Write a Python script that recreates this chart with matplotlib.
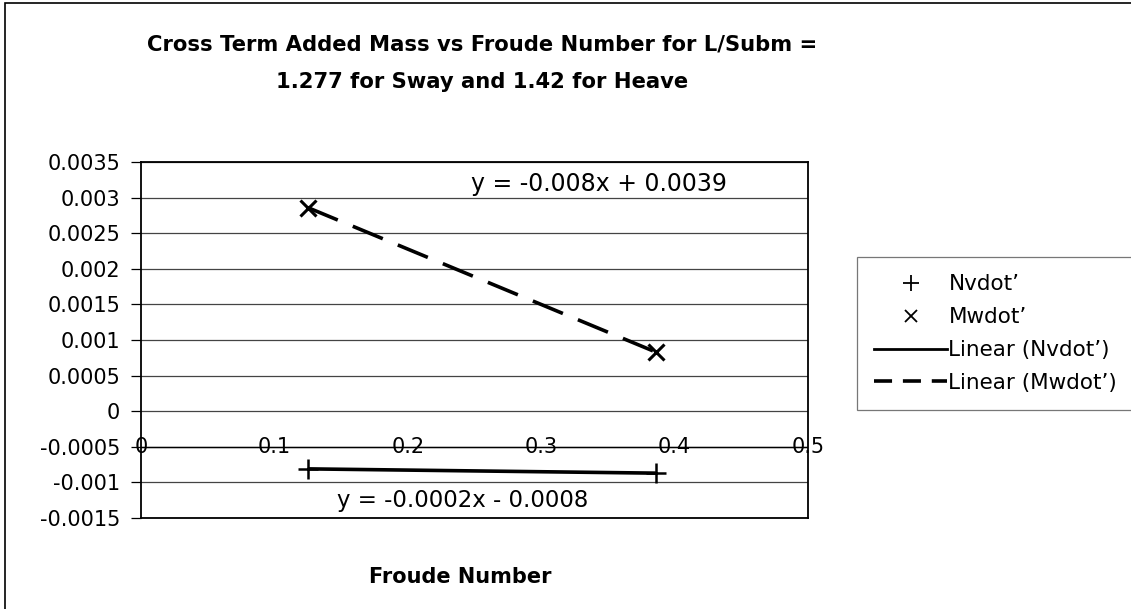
import numpy as np
import matplotlib
matplotlib.use("Agg")
import matplotlib.pyplot as plt
from matplotlib.lines import Line2D
from matplotlib.patches import Rectangle

# ---- data ----
froude = [0.125, 0.386]
nvdot = [-0.00081, -0.00087]
mwdot = [0.00286, 0.00083]
x_ticks = [0, 0.1, 0.2, 0.3, 0.4, 0.5]
x_tick_labels = ["0", "0.1", "0.2", "0.3", "0.4", "0.5"]
y_ticks = [-0.0015, -0.001, -0.0005, 0, 0.0005, 0.001, 0.0015, 0.002, 0.0025, 0.003, 0.0035]
y_tick_labels = ["-0.0015", "-0.001", "-0.0005", "0", "0.0005", "0.001", "0.0015",
                 "0.002", "0.0025", "0.003", "0.0035"]
eq_mw = "y = -0.008x + 0.0039"
eq_nv = "y = -0.0002x - 0.0008"
title = "Cross Term Added Mass vs Froude Number for L/Subm =\n1.277 for Sway and 1.42 for Heave"
xlabel = "Froude Number"

plt.rcParams['font.family'] = ['DejaVu Sans']

W, H = 1131, 609
fig = plt.figure(figsize=(W / 100, H / 100), dpi=100)
ax = fig.add_axes([141 / W, 1 - 518 / H, (808 - 141) / W, (518 - 162) / H])

ax.set_xlim(0, 0.5)
ax.set_ylim(-0.0015, 0.0035)

# gridlines
for yv in y_ticks:
    ax.axhline(yv, color='#444444', lw=0.9, zorder=1)

# trendlines (least-squares fit through data)
xs = np.array(froude)
c_nv = np.polyfit(xs, nvdot, 1)
c_mw = np.polyfit(xs, mwdot, 1)
ax.plot(xs, np.polyval(c_nv, xs), color='black', lw=2.6, solid_capstyle='butt', zorder=3)
ax.plot(xs, np.polyval(c_mw, xs), color='black', lw=2.6, dashes=(9, 4.5), zorder=3)

# markers
ax.plot(froude, nvdot, ls='none', marker='+', ms=15, mew=1.8, color='black', zorder=4)
ax.plot(froude, mwdot, ls='none', marker='x', ms=12, mew=2.2, color='black', zorder=4)

# y ticks
ax.set_yticks(y_ticks)
ax.set_yticklabels(y_tick_labels, fontsize=15)
ax.tick_params(axis='y', length=7, width=0.9, direction='out', pad=8)

# x axis drawn at -0.0005 with labels centered on the line
ax.set_xticks([])
ax.axhline(-0.0005, color='black', lw=1.0, zorder=2)
for xv, lab in zip(x_ticks, x_tick_labels):
    ax.text(xv, -0.0005, lab, ha='center', va='center', fontsize=15, zorder=5)

for s in ax.spines.values():
    s.set_linewidth(1.3)
    s.set_color('black')

# equations
ax.text(0.343, 0.00319, eq_mw, ha='center', va='center', fontsize=17)
ax.text(0.241, -0.00125, eq_nv, ha='center', va='center', fontsize=16.5)

# title and x label
fig.text(482 / W, 1 - 63 / H, title, ha='center', va='center', fontsize=15.2,
         fontweight='bold', linespacing=2.1)
fig.text(460 / W, 1 - 577 / H, xlabel, ha='center', va='center', fontsize=15,
         fontweight='bold')

# legend
handles = [
    Line2D([], [], ls='none', marker='+', ms=12, mew=1.3, color='black'),
    Line2D([], [], ls='none', marker='x', ms=9, mew=1.3, color='black'),
    Line2D([], [], color='black', lw=2),
    Line2D([], [], color='black', lw=2.6, dashes=(5, 3)),
]
labels = ["Nvdot\u2019", "Mwdot\u2019", "Linear (Nvdot\u2019)", "Linear (Mwdot\u2019)"]
leg = fig.legend(handles, labels, loc='upper left', bbox_to_anchor=(857 / W, 1 - 257 / H),
                 fontsize=15.5, frameon=True, fancybox=False, edgecolor='#555555',
                 handlelength=3.4, handletextpad=0.05, labelspacing=0.6,
                 borderpad=0.8, borderaxespad=0)
leg.get_frame().set_linewidth(0.9)

# outer chart border
fig.patches.append(Rectangle((5 / W, -0.01), 1.1, 1 - 3 / H + 0.01, transform=fig.transFigure,
                             fill=False, edgecolor='black', lw=1.2))

fig.savefig("out.png", dpi=100)
